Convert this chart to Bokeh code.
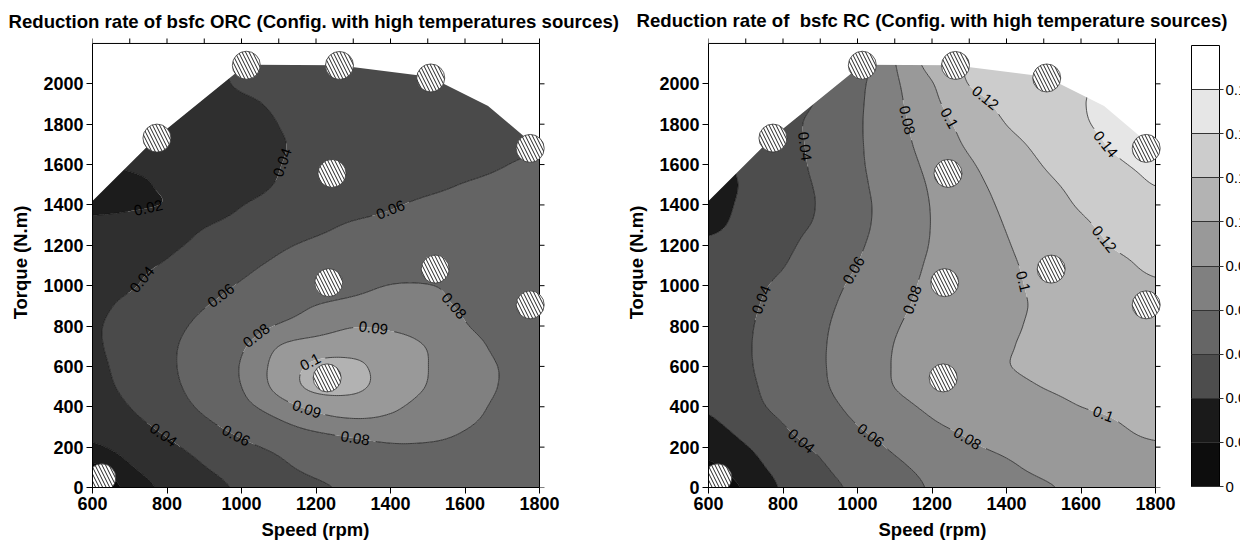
import numpy as np
from contourpy import contour_generator
from bokeh.plotting import figure
from bokeh.models import Range1d, FixedTicker, Title, ColorBar, LinearColorMapper
from bokeh.layouts import row
from bokeh.embed import file_html
from bokeh.resources import INLINE
from bokeh.core.properties import value

# ---------------------------------------------------------------- data
speed_rpm = list(range(600, 1801, 100))      # grid columns
torque_nm = list(range(0, 2201, 100))        # grid rows

# bsfc reduction rate, ORC configuration (rows: torque 0..2200, cols: speed 600..1800)
orc_reduction = [
    [0.003, 0.0127, 0.0235, 0.0336, 0.0427, 0.0499, 0.0572, 0.063, 0.066, 0.068, 0.069, 0.069, 0.068],
    [0.008, 0.0188, 0.0292, 0.0394, 0.0481, 0.0566, 0.0645, 0.069, 0.0725, 0.074, 0.074, 0.073, 0.071],
    [0.018, 0.0257, 0.0363, 0.0462, 0.0559, 0.0635, 0.070, 0.0755, 0.0785, 0.0785, 0.077, 0.075, 0.073],
    [0.026, 0.034, 0.0442, 0.0554, 0.0659, 0.076, 0.083, 0.086, 0.0865, 0.085, 0.0805, 0.0775, 0.075],
    [0.030, 0.040, 0.0514, 0.0631, 0.0758, 0.0856, 0.0925, 0.095, 0.0915, 0.087, 0.0827, 0.0785, 0.0765],
    [0.034, 0.0445, 0.0553, 0.0673, 0.080, 0.0929, 0.1025, 0.102, 0.0957, 0.0896, 0.0844, 0.0795, 0.077],
    [0.036, 0.0466, 0.057, 0.0685, 0.0808, 0.0934, 0.1018, 0.1018, 0.0958, 0.0901, 0.0845, 0.0795, 0.077],
    [0.038, 0.0471, 0.0569, 0.0674, 0.0784, 0.090, 0.0945, 0.096, 0.0945, 0.0895, 0.0834, 0.078, 0.0755],
    [0.0385, 0.046, 0.0549, 0.0639, 0.073, 0.081, 0.0855, 0.0895, 0.0885, 0.0855, 0.0805, 0.0765, 0.0745],
    [0.037, 0.0432, 0.0513, 0.0593, 0.0664, 0.0734, 0.0802, 0.083, 0.0835, 0.082, 0.079, 0.0755, 0.0735],
    [0.035, 0.0387, 0.0465, 0.0542, 0.0613, 0.0664, 0.0716, 0.0767, 0.0803, 0.0803, 0.0775, 0.0745, 0.0725],
    [0.033, 0.0365, 0.0415, 0.049, 0.0566, 0.0625, 0.0665, 0.0705, 0.0735, 0.0745, 0.074, 0.0725, 0.071],
    [0.030, 0.032, 0.037, 0.0438, 0.0507, 0.0577, 0.0626, 0.0655, 0.068, 0.0695, 0.070, 0.0695, 0.0685],
    [0.025, 0.027, 0.032, 0.039, 0.0448, 0.0505, 0.0562, 0.0615, 0.0637, 0.0655, 0.0665, 0.067, 0.0665],
    [0.015, 0.0175, 0.0212, 0.0305, 0.0395, 0.0444, 0.0491, 0.0539, 0.0587, 0.0623, 0.0638, 0.065, 0.0655],
    [0.013, 0.016, 0.0229, 0.029, 0.035, 0.0408, 0.0449, 0.049, 0.053, 0.0571, 0.0605, 0.0625, 0.064],
    [0.018, 0.022, 0.025, 0.030, 0.035, 0.0397, 0.0431, 0.0464, 0.0496, 0.0529, 0.0562, 0.0595, 0.062],
    [0.019, 0.022, 0.025, 0.0295, 0.034, 0.0392, 0.0425, 0.0455, 0.0485, 0.0515, 0.054, 0.0565, 0.0585],
    [0.020, 0.022, 0.026, 0.030, 0.0345, 0.0401, 0.0425, 0.045, 0.0475, 0.050, 0.0525, 0.055, 0.057],
    [0.021, 0.024, 0.028, 0.032, 0.0375, 0.0415, 0.0435, 0.0455, 0.047, 0.049, 0.051, 0.053, 0.055],
    [0.022, 0.026, 0.030, 0.035, 0.0415, 0.043, 0.0445, 0.0455, 0.047, 0.048, 0.050, 0.052, 0.054],
    [0.023, 0.027, 0.031, 0.036, 0.042, 0.0435, 0.045, 0.046, 0.047, 0.048, 0.050, 0.052, 0.054],
    [0.024, 0.028, 0.032, 0.037, 0.0425, 0.044, 0.0455, 0.0465, 0.0475, 0.0485, 0.050, 0.052, 0.054],
]

# bsfc reduction rate, RC configuration (same grid)
rc_reduction = [
    [0.012, 0.0216, 0.0311, 0.0363, 0.0428, 0.0527, 0.0615, 0.0671, 0.0727, 0.0783, 0.0835, 0.087, 0.0895],
    [0.018, 0.0261, 0.0331, 0.0385, 0.047, 0.0568, 0.0645, 0.0711, 0.0776, 0.0835, 0.0875, 0.0905, 0.093],
    [0.0235, 0.0295, 0.0354, 0.0424, 0.0528, 0.0623, 0.0701, 0.078, 0.0828, 0.0866, 0.0904, 0.096, 0.0985],
    [0.028, 0.0333, 0.0393, 0.0491, 0.0595, 0.0685, 0.0776, 0.083, 0.087, 0.0911, 0.0952, 0.0993, 0.1025],
    [0.031, 0.0364, 0.0435, 0.054, 0.0647, 0.0754, 0.0825, 0.0869, 0.0912, 0.0956, 0.100, 0.102, 0.104],
    [0.033, 0.0375, 0.0463, 0.0572, 0.0687, 0.0802, 0.0853, 0.0903, 0.0954, 0.1004, 0.1035, 0.1055, 0.107],
    [0.034, 0.0385, 0.0475, 0.0581, 0.0699, 0.0809, 0.0871, 0.0932, 0.0993, 0.104, 0.107, 0.109, 0.1105],
    [0.035, 0.0388, 0.0477, 0.0581, 0.0694, 0.0804, 0.0865, 0.0926, 0.0986, 0.1045, 0.1085, 0.1115, 0.1135],
    [0.035, 0.0385, 0.0469, 0.0573, 0.0681, 0.0788, 0.0853, 0.0913, 0.0972, 0.1035, 0.1085, 0.1125, 0.1155],
    [0.034, 0.0375, 0.0455, 0.0556, 0.0661, 0.0766, 0.0842, 0.0904, 0.0966, 0.1025, 0.1085, 0.1135, 0.118],
    [0.033, 0.0365, 0.0429, 0.0532, 0.0636, 0.0744, 0.0834, 0.0902, 0.097, 0.1033, 0.1095, 0.1145, 0.1185],
    [0.031, 0.035, 0.0395, 0.0497, 0.0603, 0.0719, 0.0823, 0.0901, 0.0977, 0.1044, 0.1107, 0.117, 0.1225],
    [0.0315, 0.034, 0.0375, 0.0457, 0.0576, 0.0695, 0.081, 0.0901, 0.099, 0.1066, 0.114, 0.1215, 0.125],
    [0.028, 0.0328, 0.0367, 0.0421, 0.0554, 0.0681, 0.0805, 0.0908, 0.1008, 0.1092, 0.1176, 0.1245, 0.129],
    [0.026, 0.032, 0.0361, 0.0411, 0.0549, 0.068, 0.0808, 0.0924, 0.1031, 0.1124, 0.1215, 0.127, 0.1335],
    [0.024, 0.0315, 0.0361, 0.0418, 0.056, 0.0692, 0.0821, 0.0948, 0.1059, 0.1162, 0.1249, 0.1326, 0.1403],
    [0.026, 0.032, 0.035, 0.0436, 0.0572, 0.0709, 0.0846, 0.098, 0.1095, 0.1206, 0.1295, 0.1383, 0.1435],
    [0.028, 0.031, 0.035, 0.0446, 0.0577, 0.0726, 0.088, 0.1026, 0.1144, 0.1248, 0.134, 0.1425, 0.146],
    [0.029, 0.032, 0.036, 0.0446, 0.0578, 0.0739, 0.0912, 0.1068, 0.1202, 0.1291, 0.138, 0.1445, 0.148],
    [0.030, 0.033, 0.036, 0.0418, 0.057, 0.0752, 0.0953, 0.1126, 0.1241, 0.1316, 0.1391, 0.145, 0.149],
    [0.031, 0.034, 0.037, 0.041, 0.0555, 0.0769, 0.099, 0.1205, 0.126, 0.132, 0.1385, 0.144, 0.148],
    [0.032, 0.035, 0.038, 0.042, 0.052, 0.0793, 0.1074, 0.1225, 0.1275, 0.133, 0.139, 0.144, 0.148],
    [0.033, 0.036, 0.039, 0.043, 0.050, 0.082, 0.113, 0.124, 0.128, 0.133, 0.139, 0.144, 0.148],
]

# engine operating points that were tested
test_speed = [625, 773, 1013, 1263, 1508, 1775, 1243, 1234, 1520, 1775, 1230]
test_torque = [48, 1731, 2092, 2091, 2029, 1680, 1556, 1015, 1082, 905, 543]

# region outside the tested envelope (left blank)
blank_speed = [600, 772, 1012, 1260, 1505, 1662, 1800, 1800, 600]
blank_torque = [1420, 1735, 2095, 2092, 2035, 1890, 1675, 2200, 2200]

orc_levels = [-1, 0.01, 0.02, 0.04, 0.06, 0.08, 0.09, 0.10, 1]
orc_colors = ["#0b0b0b", "#1c1c1c", "#2f2f2f", "#4a4a4a", "#646464", "#808080", "#999999", "#b2b2b2"]
orc_label_spots = [
    (0.02, 752, 1384), (0.04, 1103, 1610), (0.06, 1396, 1381), (0.04, 743, 1020),
    (0.06, 946, 951), (0.08, 1043, 745), (0.09, 1355, 799), (0.10, 1186, 618),
    (0.09, 1175, 377), (0.08, 1306, 230), (0.08, 1572, 902), (0.04, 792, 261),
    (0.06, 980, 230),
]

rc_levels = [-1, 0.02, 0.03, 0.04, 0.06, 0.08, 0.10, 0.12, 0.14, 0.16, 1]
rc_colors = ["#0d0d0d", "#1a1a1a", "#4d4d4d", "#666666", "#808080", "#999999",
             "#b3b3b3", "#cccccc", "#e6e6e6", "#ffffff"]
rc_label_spots = [
    (0.04, 864, 1691), (0.08, 1133, 1823), (0.10, 1240, 1823), (0.12, 1334, 1913),
    (0.14, 1661, 1691), (0.12, 1661, 1232), (0.06, 990, 1076), (0.04, 752, 928),
    (0.08, 1146, 928), (0.10, 1442, 1018), (0.10, 1657, 353), (0.04, 855, 246),
    (0.06, 1034, 246), (0.08, 1290, 230),
]

x_ticks_labelled = list(range(600, 1801, 200))
x_ticks_top = list(range(600, 1801, 100))
y_ticks = list(range(0, 2001, 200))

FONT = "Liberation Sans"
BOX = 447            # pixel size of the speed/torque box
PAD_TOP, PAD_RIGHT = 6, 12
SX = BOX / 1200.0    # px per rpm
SY = BOX / 2200.0    # px per N.m


# ---------------------------------------------------------------- helpers
def cr_matrix(n, m):
    """Catmull-Rom resampling matrix from n nodes to m evenly spaced samples."""
    t = np.linspace(0, n - 1, m)
    W = np.zeros((m, n))
    for k, tk in enumerate(t):
        i = min(int(np.floor(tk)), n - 2)
        f = tk - i
        w = [(-f**3 + 2*f**2 - f) / 2, (3*f**3 - 5*f**2 + 2) / 2,
             (-3*f**3 + 4*f**2 + f) / 2, (f**3 - f**2) / 2]
        for j, wj in zip(range(i - 1, i + 3), w):
            W[k, min(max(j, 0), n - 1)] += wj
    return W


def smooth_field(grid):
    z = np.asarray(grid, dtype=float)
    nx, ny = 241, 221
    xs = np.linspace(speed_rpm[0], speed_rpm[-1], nx)
    ys = np.linspace(torque_nm[0], torque_nm[-1], ny)
    zf = cr_matrix(z.shape[0], ny) @ z @ cr_matrix(z.shape[1], nx).T
    return xs, ys, zf


def labelled_lines(gen, levels, spots, sx, sy, fs):
    lines = {lv: [np.asarray(s) for s in gen.lines(lv)] for lv in levels}
    keep = {lv: [np.ones(len(s), bool) for s in lines[lv]] for lv in levels}
    tx, ty, tt, ta = [], [], [], []
    for lv, lx, ly in spots:
        best = None
        for si, seg in enumerate(lines[lv]):
            d = np.hypot((seg[:, 0] - lx) * sx, (seg[:, 1] - ly) * sy)
            k = int(np.argmin(d))
            if best is None or d[k] < best[0]:
                best = (d[k], si, k)
        if best is None:
            continue
        _, si, k = best
        seg = lines[lv][si]
        a, b = max(k - 5, 0), min(k + 5, len(seg) - 1)
        ang = np.arctan2((seg[b, 1] - seg[a, 1]) * sy, (seg[b, 0] - seg[a, 0]) * sx)
        if ang > np.pi / 2:
            ang -= np.pi
        elif ang <= -np.pi / 2:
            ang += np.pi
        txt = f"{lv:g}"
        r = len(txt) * 0.29 * fs + 2
        cx, cy = seg[k]
        for sj, s2 in enumerate(lines[lv]):
            keep[lv][sj] &= np.hypot((s2[:, 0] - cx) * sx, (s2[:, 1] - cy) * sy) > r
        tx.append(cx); ty.append(cy); tt.append(txt); ta.append(ang)
    xs, ys = [], []
    for lv in levels:
        for seg, m in zip(lines[lv], keep[lv]):
            idx = np.flatnonzero(m)
            if len(idx) < 2:
                continue
            breaks = np.flatnonzero(np.diff(idx) > 1)
            starts = np.r_[0, breaks + 1]
            ends = np.r_[breaks, len(idx) - 1]
            for s0, e0 in zip(starts, ends):
                run = idx[s0:e0 + 1]
                if len(run) >= 2:
                    xs.append(seg[run, 0].tolist()); ys.append(seg[run, 1].tolist())
    return xs, ys, tx, ty, tt, ta


def make_panel(grid, levels, colors, spots, title, left, top, bottom,
               title_offset, title_standoff, xlabel_offset):
    frame_w = BOX + PAD_RIGHT
    p = figure(width=620, height=554, title=None, output_backend="svg", toolbar_location=None,
               x_range=Range1d(600, 1800 + PAD_RIGHT / SX),
               y_range=Range1d(0, 2200 + PAD_TOP / SY),
               min_border_left=left, min_border_right=620 - left - frame_w,
               min_border_top=top - PAD_TOP, min_border_bottom=bottom)
    p.grid.visible = False
    p.outline_line_color = None
    p.background_fill_color = "white"

    xs, ys, zf = smooth_field(grid)
    p.contour(xs, ys, zf, levels, fill_color=colors, line_color=None)

    gen = contour_generator(xs, ys, zf)
    lx, ly, tx, ty, tt, ta = labelled_lines(gen, levels[1:-1], spots, SX, SY, 15)
    p.multi_line(lx, ly, line_color="#111111", line_width=0.7)
    p.text(x=tx, y=ty, text=tt, angle=ta, text_align="center", text_baseline="middle",
           text_font=value(FONT), text_font_size="15px", text_color="black")

    p.patch(blank_speed, blank_torque, fill_color="white", line_color=None)

    # box border with outward ticks on the top and right sides
    p.quad(left=600, right=1800, bottom=0, top=2200, fill_color=None,
           line_color="black", line_width=1)
    p.segment(x0=x_ticks_top, x1=x_ticks_top, y0=[2200] * len(x_ticks_top),
              y1=[2200 + 5 / SY] * len(x_ticks_top), line_color="black", line_width=1)
    p.segment(x0=[1800] * len(y_ticks), x1=[1800 + 5 / SX] * len(y_ticks),
              y0=y_ticks, y1=y_ticks, line_color="black", line_width=1)

    p.scatter(test_speed, test_torque, marker="circle", size=28, fill_color="white",
              line_color="#333333", line_width=0.8, hatch_pattern="left_diagonal_line",
              hatch_color="#222222", hatch_scale=7, hatch_weight=1)

    t = Title(text=title, align="left", offset=title_offset, text_font=FONT,
              text_font_style="bold", text_font_size="18.6px", text_color="black",
              standoff=title_standoff, text_line_height=1.0)
    p.add_layout(t, "above")

    xa = p.xaxis[0]
    xa.ticker = FixedTicker(ticks=x_ticks_labelled)
    xa.bounds = (600, 1800)
    ya = p.yaxis[0]
    ya.ticker = FixedTicker(ticks=y_ticks)
    ya.bounds = (0, 2200)
    ya.axis_label = "Torque (N.m)"
    ya.axis_label_standoff = 9
    for ax in (xa, ya):
        ax.axis_line_color = "black"
        ax.axis_line_width = 1
        ax.major_tick_line_color = "black"
        ax.major_tick_line_width = 1
        ax.major_tick_out = 6
        ax.major_tick_in = 0
        ax.minor_tick_line_color = None
        ax.major_label_standoff = 3
        ax.major_label_text_font = FONT
        ax.major_label_text_font_style = "bold"
        ax.major_label_text_font_size = "18px"
        ax.major_label_text_color = "black"
        ax.axis_label_text_font = FONT
        ax.axis_label_text_font_style = "bold"
        ax.axis_label_text_font_size = "18.5px"
        ax.axis_label_text_color = "black"

    # speed label, centred under the speed range rather than under the padded frame
    xl = Title(text="Speed (rpm)", align="left", offset=xlabel_offset, text_font=FONT,
               text_font_style="bold", text_font_size="18.5px", text_color="black",
               standoff=8, text_line_height=1.0)
    p.add_layout(xl, "below")
    return p


p_orc = make_panel(orc_reduction, orc_levels, orc_colors, orc_label_spots,
                   "Reduction rate of bsfc ORC (Config. with high temperatures sources)",
                   92, 40, 67, -84, 11, 169)
p_rc = make_panel(rc_reduction, rc_levels, rc_colors, rc_label_spots,
                  "Reduction rate of \u00a0bsfc RC (Config. with high temperature sources)",
                  88, 43, 64, -72, 14, 170)

# ---------------------------------------------------------------- scale bar of the RC map
scale_labels = ["0"] + [f"{v:g}" for v in rc_levels[1:len(rc_colors)]]
mapper = LinearColorMapper(palette=rc_colors, low=0, high=len(rc_colors))
cbar = ColorBar(color_mapper=mapper,
                ticker=FixedTicker(ticks=list(range(len(rc_colors)))),
                major_label_overrides={i: s for i, s in enumerate(scale_labels)},
                width=28, height=441, location=(483, 1), padding=0, margin=0,
                bar_line_color="black", bar_line_width=1,
                major_tick_line_color="#333333", major_tick_in=28, major_tick_out=4,
                minor_tick_line_color=None, label_standoff=2,
                major_label_text_font=FONT, major_label_text_font_size="15px",
                major_label_text_color="black",
                background_fill_color=None, border_line_color=None)
p_rc.add_layout(cbar, "center")

layout = row(p_orc, p_rc)
open("out.html", "w").write(file_html(layout, INLINE))
